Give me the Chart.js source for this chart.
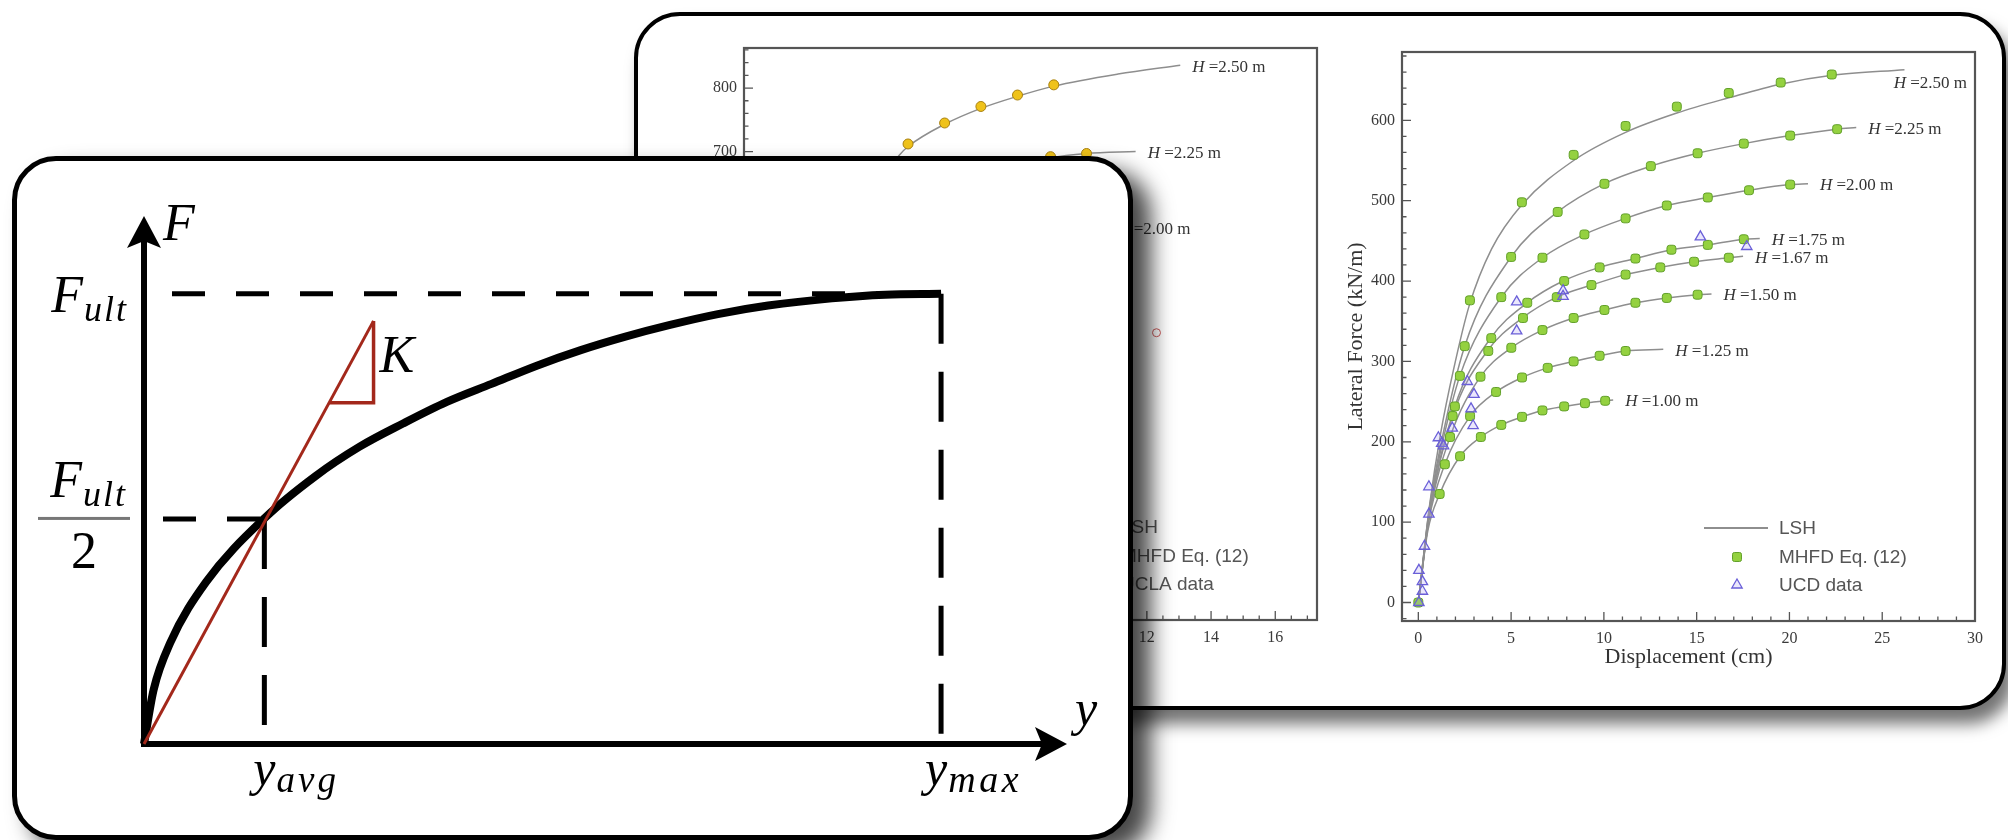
<!DOCTYPE html>
<html>
<head>
<meta charset="utf-8">
<script src="https://cdn.jsdelivr.net/npm/chart.js@4.4.1/dist/chart.umd.min.js"></script>
<style>
html, body { margin: 0; padding: 0; background: #fff; width: 2008px; height: 840px; overflow: hidden; }
.card { position: absolute; box-sizing: border-box; border: 4px solid #000; background: #fff; }
#back { left: 634px; top: 12px; width: 1372px; height: 698px; border-radius: 46px; box-shadow: 8px 14px 16px rgba(0,0,0,.55); z-index: 1; }
#front { left: 12px; top: 156px; width: 1121px; height: 684px; border-radius: 44px; border-width: 5px; box-shadow: 18px 14px 22px rgba(0,0,0,.72); z-index: 3; }
canvas { position: absolute; }
#ucla { left: 683px; top: 26px; z-index: 2; }
#ucd { left: 1341px; top: 30px; z-index: 2; }
#schem { left: 16px; top: 160px; z-index: 4; }
</style>
</head>
<body>
<div class="card" id="back"></div>
<canvas id="ucla" width="652" height="653"></canvas>
<canvas id="ucd" width="659" height="650"></canvas>
<div class="card" id="front"></div>
<canvas id="schem" width="1113" height="676"></canvas>

<script>
// ---------- schematic curve (front card), normalised y / y_max and F / F_ult ----------
const schemY = [0, 0.012, 0.033, 0.078, 0.152, 0.215, 0.27, 0.325, 0.38, 0.436, 0.492, 0.548, 0.604, 0.66, 0.72, 0.783, 0.863, 0.93, 1]
const schemF = [0, 0.12, 0.225, 0.36, 0.503, 0.595, 0.66, 0.712, 0.76, 0.80, 0.84, 0.875, 0.905, 0.931, 0.955, 0.974, 0.99, 0.998, 1]
const guideY = [0.151, 1]        // y_avg, y_max
const guideF = [0.5, 1]          // F_ult/2, F_ult
const secantY = [0, 0.288]
const secantF = [0, 0.94]
const slopeY = [0.232, 0.288, 0.288]
const slopeF = [0.758, 0.758, 0.94]

// ---------- right panel: UCD tests ----------
const ucdHeights = ['2.50', '2.25', '2.00', '1.75', '1.67', '1.50', '1.25', '1.00']
const dispTicks = [0, 5, 10, 15, 20, 25, 30]
const forceTicks = [0, 100, 200, 300, 400, 500, 600]

const lsh250 = [[0,0],[0.6,120],[1.2,210],[1.9,290],[2.75,370],[3.95,440],[5.58,495],[8.37,550],[11.17,585],[13.93,609],[16.73,628],[19.5,645],[22.3,656],[26.2,663]]
const lsh225 = [[0,0],[0.6,118],[1.2,195],[2.5,319],[5.0,430],[7.5,486],[10.0,521],[12.53,543],[15.05,559],[17.54,571],[20.04,581],[22.57,589],[23.6,591]]
const lsh200 = [[0,0],[0.6,115],[1.2,188],[2.24,282],[4.47,380],[6.69,429],[8.95,458],[11.17,478],[13.39,494],[15.6,504],[17.82,513],[20.04,520],[21.0,521]]
const lsh175 = [[0,0],[0.6,112],[1.97,244],[3.9,329],[5.87,373],[7.8,400],[9.77,417],[11.7,428],[13.64,439],[15.6,445],[17.54,452],[18.4,453]]
const lsh167 = [[0,0],[0.6,110],[1.85,232],[3.72,313],[5.6,354],[7.46,380],[9.33,395],[11.17,408],[13.04,417],[14.86,424],[16.73,429],[17.5,431]]
const lsh150 = [[0,0],[0.6,108],[1.71,206],[3.35,281],[5.01,317],[6.69,339],[8.37,354],[10.03,364],[11.7,373],[13.39,379],[15.05,383],[15.8,384]]
const lsh125 = [[0,0],[0.55,100],[1.43,172],[2.79,232],[4.19,262],[5.59,280],[6.97,292],[8.37,300],[9.77,307],[11.17,313],[13.2,315]]
const lsh100 = [[0,0],[0.5,88],[1.15,135],[2.25,182],[3.37,206],[4.47,221],[5.59,231],[6.69,239],[7.86,244],[8.98,248],[10.07,251],[10.5,252]]

const mhfdPoints = [
    [0,0],
    [2.78,376],[5.58,498],[8.37,557],[11.17,593],[13.93,617],[16.73,634],[19.53,647],[22.28,657],   // 2.50
    [2.5,319],[5.0,430],[7.51,486],[10.03,521],[12.53,543],[15.05,559],[17.54,571],[20.04,581],[22.57,589], // 2.25
    [2.24,282],[4.47,380],[6.69,429],[8.95,458],[11.17,478],[13.39,494],[15.6,504],[17.82,513],[20.04,520], // 2.00
    [1.97,244],[3.93,329],[5.87,373],[7.86,400],[9.77,417],[11.7,428],[13.64,439],[15.6,445],[17.54,452],   // 1.75
    [1.85,232],[3.77,313],[5.64,354],[7.46,380],[9.33,395],[11.17,408],[13.04,417],[14.86,424],[16.73,429], // 1.67
    [1.71,206],[3.35,281],[5.01,317],[6.69,339],[8.37,354],[10.03,364],[11.7,373],[13.39,379],[15.05,383], // 1.50
    [1.43,172],[2.79,232],[4.19,262],[5.59,280],[6.97,292],[8.37,300],[9.77,307],[11.17,313],           // 1.25
    [1.15,135],[2.25,182],[3.37,206],[4.47,221],[5.59,231],[6.69,239],[7.86,244],[8.98,248],[10.07,251]  // 1.00
]
const ucdPoints = [[0.03,0],[0.22,14],[0.22,26],[0.03,40],[0.33,70],[0.57,110],[0.57,144],[1.08,205],[1.26,198],[1.36,195],
    [1.83,217],[2.95,220],[2.84,241],[2.64,275],[3.0,259],[5.3,374],[5.3,338],[7.8,388],[7.8,381],[15.2,455],[17.7,443]]

// ---------- left panel: UCLA tests (mostly behind the front card) ----------
const uclaHeights = ['2.50', '2.25', '2.00']
const uclaDispTicks = [0, 2, 4, 6, 8, 10, 12, 14, 16]
const uclaForceTicks = [0, 100, 200, 300, 400, 500, 600, 700, 800]
const ucla250 = [[0,0],[1,300],[2.3,520],[3.4,630],[4.28,694],[4.56,708],[5.7,743],[6.83,768],[7.97,787],[9.1,803],[11.1,822],[13.04,836]]
const ucla225 = [[0,0],[1,280],[2.5,480],[4.5,600],[6.8,660],[9.0,690],[10.12,697],[11.65,700]]
const ucla200 = [[0,0],[1,260],[2.5,420],[4.5,510],[7,560],[10.7,580]]
const uclaMhfd = [[4.56,712],[5.7,745],[6.83,771],[7.97,789],[9.1,805],[9.0,692],[10.12,697]]
const uclaData = [[12.3,415]]

const pts = arr => arr.map(p => ({x: p[0], y: p[1]}))
const serif = '"Liberation Serif", "Times New Roman", serif'

function drawMarker(ctx, ds, x, y) {
    const r = ds.pointRadius
    ctx.save()
    ctx.fillStyle = ds.backgroundColor
    ctx.strokeStyle = ds.borderColor
    ctx.lineWidth = ds.borderWidth
    ctx.beginPath()
    if (ds.pointStyle === 'triangle') {
        ctx.moveTo(x, y - r)
        ctx.lineTo(x + r * 0.866, y + r * 0.5)
        ctx.lineTo(x - r * 0.866, y + r * 0.5)
        ctx.closePath()
    } else if (ds.pointStyle === 'rectRounded') {
        const h = r * 0.86
        ctx.roundRect(x - h, y - h, 2 * h, 2 * h, r * 0.35)
    } else {
        ctx.arc(x, y, r, 0, Math.PI * 2)
    }
    ctx.fill()
    ctx.stroke()
    ctx.restore()
}

// frame, inward ticks, curve labels and the corner legend of the paper plots
const paperAxes = {
    id: 'paperAxes',
    afterDatasetsDraw(chart, args, opts) {
        const {ctx, chartArea: a, scales: {x, y}} = chart
        ctx.save()
        ctx.strokeStyle = '#555'
        ctx.lineWidth = 1.3
        ctx.beginPath()
        for (let v = Math.ceil(x.min / opts.xMinor) * opts.xMinor; v <= x.max + 1e-9; v += opts.xMinor) {
            const px = x.getPixelForValue(v)
            const major = x.ticks.some(t => Math.abs(t.value - v) < 1e-6)
            ctx.moveTo(px, a.bottom)
            ctx.lineTo(px, a.bottom - (major ? 9 : 4.5))
        }
        for (let v = Math.ceil(y.min / opts.yMinor) * opts.yMinor; v <= y.max + 1e-9; v += opts.yMinor) {
            const py = y.getPixelForValue(v)
            const major = y.ticks.some(t => Math.abs(t.value - v) < 1e-6)
            ctx.moveTo(a.left, py)
            ctx.lineTo(a.left + (major ? 9 : 4.5), py)
        }
        ctx.stroke()
        ctx.lineWidth = 2.2
        ctx.strokeRect(a.left, a.top, a.width, a.height)

        // H = ... labels at the end of each curve
        ctx.fillStyle = '#333'
        ctx.textBaseline = 'middle'
        chart.data.datasets.forEach(ds => {
            if (!ds.hLabel) return
            const last = ds.data[ds.data.length - 1]
            let px = x.getPixelForValue(last.x) + 12
            let py = y.getPixelForValue(last.y) + 2
            ctx.font = 'italic 17px ' + serif
            const wH = ctx.measureText('H ').width
            ctx.font = '17px ' + serif
            const rest = '=' + ds.hLabel + ' m'
            const w = wH + ctx.measureText(rest).width
            if (px + w > a.right - 4) { px = a.right - w - 8; py += 12 }
            ctx.font = 'italic 17px ' + serif
            ctx.fillText('H', px, py)
            ctx.font = '17px ' + serif
            ctx.fillText(rest, px + wH, py)
        })

        // legend in the lower right corner
        const rows = [a.bottom - 93, a.bottom - 64, a.bottom - 36]
        ctx.font = '19px "Liberation Sans", Arial, sans-serif'
        ctx.fillStyle = '#555'
        chart.data.datasets.filter(ds => ds.legendText).forEach((ds, i) => {
            const ry = rows[i]
            if (ds.showLine) {
                ctx.strokeStyle = ds.borderColor
                ctx.lineWidth = 2
                ctx.beginPath()
                ctx.moveTo(a.right - 271, ry)
                ctx.lineTo(a.right - 207, ry)
                ctx.stroke()
            } else {
                drawMarker(ctx, ds, a.right - 238, ry)
            }
            ctx.fillText(ds.legendText, a.right - 196, ry + 1)
        })
        ctx.restore()
    }
}

function sideScale(vals, min, max, title, fit, horizontal) {
    return {
        type: 'linear', min, max,
        afterBuildTicks: s => { s.ticks = vals.map(v => ({value: v})) },
        afterFit: s => { if (horizontal) s.height = fit; else s.width = fit },
        grid: {display: false, drawTicks: false},
        border: {display: false},
        ticks: {color: '#3a3a3a', padding: horizontal ? 8 : 7, autoSkip: false, maxRotation: 0,
            font: {family: serif, size: 16}},
        title: {display: true, text: title, color: '#333', padding: 2, font: {family: serif, size: 22}}
    }
}

function lshSets(curves, labels, color) {
    return curves.map((c, i) => ({
        data: pts(c), showLine: true, borderColor: color, borderWidth: 1.5,
        pointRadius: 0, cubicInterpolationMode: 'monotone', order: 2,
        hLabel: labels[i], legendText: i === 0 ? 'LSH' : undefined
    }))
}

function paperChart(id, curves, labels, mhfd, dataSet, xr, yr, xt, yt, xMinor) {
    return new Chart(document.getElementById(id), {
        type: 'scatter',
        data: {datasets: [
            ...lshSets(curves, labels, '#8e8e8e'),
            mhfd,
            dataSet
        ]},
        options: {
            responsive: false, animation: false,
            layout: {padding: {left: 0, right: id === 'ucd' ? 25 : 18, top: 22, bottom: 8}},
            scales: {
                x: sideScale(xt, xr[0], xr[1], 'Displacement (cm)', 51, true),
                y: sideScale(yt, yr[0], yr[1], 'Lateral Force (kN/m)', 61, false)
            },
            plugins: {legend: {display: false}, tooltip: {enabled: false},
                paperAxes: {xMinor: xMinor, yMinor: 20}}
        },
        plugins: [paperAxes]
    })
}

paperChart('ucla', [ucla250, ucla225, ucla200], uclaHeights,
    {data: pts(uclaMhfd), pointStyle: 'circle', pointRadius: 5, backgroundColor: '#efc21a',
        borderColor: '#a8800f', borderWidth: 1, order: 1, legendText: 'MHFD Eq. (12)'},
    {data: pts(uclaData), pointStyle: 'circle', pointRadius: 4, backgroundColor: 'rgba(255,255,255,0)',
        borderColor: '#cc5a5a', borderWidth: 1, order: 0, legendText: 'UCLA data'},
    [-0.55, 17.3], [-37, 863], uclaDispTicks, uclaForceTicks, 0.5)

paperChart('ucd', [lsh250, lsh225, lsh200, lsh175, lsh167, lsh150, lsh125, lsh100], ucdHeights,
    {data: pts(mhfdPoints), pointStyle: 'rectRounded', pointRadius: 5.2, backgroundColor: '#94d140',
        borderColor: '#62a02a', borderWidth: 1, order: 1, legendText: 'MHFD Eq. (12)'},
    {data: pts(ucdPoints), pointStyle: 'triangle', pointRadius: 6, backgroundColor: 'rgba(170,160,245,0.25)',
        borderColor: '#6a5fd8', borderWidth: 1.3, order: 0, legendText: 'UCD data'},
    [-0.88, 30], [-23, 685], dispTicks, forceTicks, 1)

// ---------- schematic ----------
function mathText(ctx, pieces, x, y, measureOnly) {
    let cx = x
    pieces.forEach(p => {
        ctx.font = (p.upright ? '' : 'italic ') + p.size + 'px ' + serif
        ctx.letterSpacing = (p.spacing || 0) + 'px'
        if (!measureOnly) ctx.fillText(p.t, cx, y + (p.dy || 0))
        cx += ctx.measureText(p.t).width + (p.gap || 0)
    })
    ctx.letterSpacing = '0px'
    return cx - x
}

const schemDecor = {
    id: 'schemDecor',
    beforeDatasetsDraw(chart) {
        const {ctx, chartArea: a, scales: {x, y}} = chart
        const x0 = x.getPixelForValue(0), y0 = y.getPixelForValue(0)
        ctx.save()
        ctx.fillStyle = '#000'
        ctx.strokeStyle = '#000'
        ctx.lineWidth = 6
        ctx.beginPath()
        ctx.moveTo(x0 - 1, y0)
        ctx.lineTo(a.right - 22, y0)
        ctx.moveTo(x0, y0 + 3)
        ctx.lineTo(x0, a.top + 22)
        ctx.stroke()
        // stealth arrow heads
        ctx.beginPath()
        ctx.moveTo(a.right, y0)
        ctx.lineTo(a.right - 32, y0 - 17)
        ctx.lineTo(a.right - 25, y0)
        ctx.lineTo(a.right - 32, y0 + 17)
        ctx.closePath()
        ctx.moveTo(x0, a.top)
        ctx.lineTo(x0 - 17, a.top + 32)
        ctx.lineTo(x0, a.top + 25)
        ctx.lineTo(x0 + 17, a.top + 32)
        ctx.closePath()
        ctx.fill()
        ctx.restore()
    },
    afterDatasetsDraw(chart) {
        const {ctx, chartArea: a, scales: {x, y}} = chart
        const x0 = x.getPixelForValue(0), y0 = y.getPixelForValue(0)
        const yUlt = y.getPixelForValue(guideF[1]), yHalf = y.getPixelForValue(guideF[0])
        ctx.save()
        ctx.fillStyle = '#000'
        ctx.textBaseline = 'alphabetic'
        const big = 52, sub = 36
        // F on the vertical axis
        mathText(ctx, [{t: 'F', size: big}], x0 + 19, a.top + 24)
        // F_ult
        const ult = [{t: 'F', size: big, gap: 1}, {t: 'ult', size: sub, dy: 9, spacing: 2}]
        let w = mathText(ctx, ult, 0, 0, true)
        mathText(ctx, ult, x0 - 16 - w, yUlt + 18)
        // F_ult / 2
        mathText(ctx, ult, x0 - 17 - w, yHalf - 22)
        ctx.fillStyle = '#777'
        ctx.fillRect(x0 - 106, yHalf - 2, 92, 3)
        ctx.fillStyle = '#000'
        ctx.font = big + 'px ' + serif
        ctx.textAlign = 'center'
        ctx.fillText('2', x0 - 60, yHalf + 49)
        ctx.textAlign = 'left'
        // K next to the slope triangle
        const kx = x.getPixelForValue(slopeY[2])
        const ky = (y.getPixelForValue(slopeF[0]) + y.getPixelForValue(slopeF[2])) / 2
        mathText(ctx, [{t: 'K', size: big}], kx + 6, ky + 10)
        // y on the horizontal axis and the displacement marks
        mathText(ctx, [{t: 'y', size: 50}], a.right + 8, y0 - 19)
        mathText(ctx, [{t: 'y', size: 50, gap: 1}, {t: 'avg', size: 37, dy: 7, spacing: 3}],
            x.getPixelForValue(guideY[0]) - 11, y0 + 41)
        mathText(ctx, [{t: 'y', size: 50, gap: 1}, {t: 'max', size: 38, dy: 7, spacing: 3.5}],
            x.getPixelForValue(guideY[1]) - 16, y0 + 41)
        ctx.restore()
    }
}

const red = '#a3281b'
const guide = (data, dash, offset) => ({data, showLine: true, borderColor: '#000', borderWidth: 5,
    borderDash: dash, borderDashOffset: offset, pointRadius: 0, clip: false, order: 2})
new Chart(document.getElementById('schem'), {
    type: 'scatter',
    data: {datasets: [
        {data: schemY.map((v, i) => ({x: v, y: schemF[i]})), showLine: true, borderColor: '#000', borderWidth: 8,
            pointRadius: 0, cubicInterpolationMode: 'monotone', clip: false, order: 1},
        {data: secantY.map((v, i) => ({x: v, y: secantF[i]})), showLine: true, borderColor: red, borderWidth: 3,
            pointRadius: 0, clip: false, order: 0},
        {data: slopeY.map((v, i) => ({x: v, y: slopeF[i]})), showLine: true, borderColor: red, borderWidth: 3.5,
            pointRadius: 0, clip: false, order: 0},
        guide([{x: 0, y: guideF[1]}, {x: guideY[1], y: guideF[1]}], [33, 31], 36),
        guide([{x: guideY[1], y: guideF[1]}, {x: guideY[1], y: 0}], [50, 28], 0),
        guide([{x: 0, y: guideF[0]}, {x: guideY[0], y: guideF[0]}], [33, 31], 45),
        guide([{x: guideY[0], y: guideF[0]}, {x: guideY[0], y: 0}], [50, 28], 0)
    ]},
    options: {
        responsive: false, animation: false,
        layout: {padding: {left: 128, right: 62, top: 56, bottom: 92}},
        scales: {
            x: {type: 'linear', display: false, min: 0, max: 1.158},
            y: {type: 'linear', display: false, min: 0, max: 1.173}
        },
        plugins: {legend: {display: false}, tooltip: {enabled: false}}
    },
    plugins: [schemDecor]
})
</script>
</body>
</html>
